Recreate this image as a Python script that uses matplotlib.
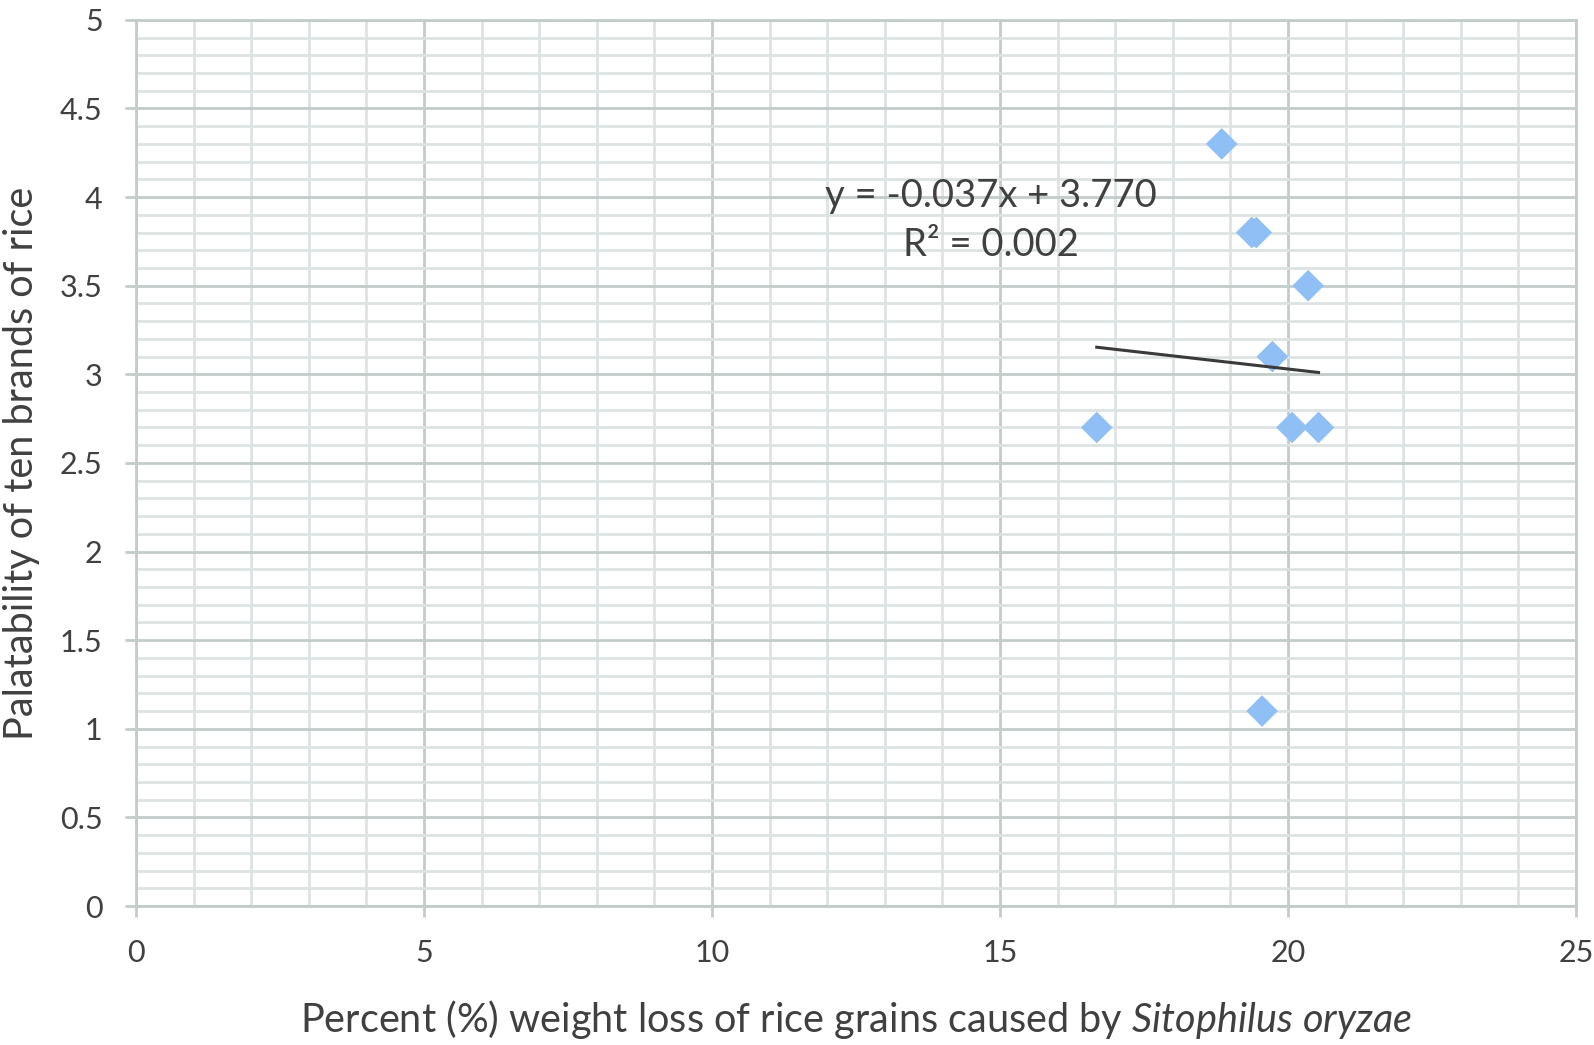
import matplotlib.pyplot as plt
from matplotlib.ticker import MultipleLocator

# weight loss (%) vs palatability score
weight_loss = [16.68, 18.85, 19.37, 19.45, 19.55, 19.73, 20.07, 20.35, 20.53]
palatability = [2.7, 4.3, 3.8, 3.8, 1.1, 3.1, 2.7, 3.5, 2.7]

# trendline as reported on the chart
slope = -0.037
intercept = 3.770
r_squared = 0.002

plt.rcParams["font.family"] = ["Lato", "DejaVu Sans"]
plt.rcParams["mathtext.fontset"] = "custom"
plt.rcParams["mathtext.it"] = "Lato:italic"
plt.rcParams["mathtext.rm"] = "Lato"
text_color = "#404040"
major_grid = "#c3cbcb"
minor_grid = "#dde3e3"

fig = plt.figure(figsize=(15.94, 10.45), dpi=100)
ax = fig.add_axes([0.0853, 0.133, 0.9034, 0.848])

ax.scatter(weight_loss, palatability, marker="D", s=260, color="#8fbff5",
           edgecolors="none", zorder=3)

x0, x1 = min(weight_loss), max(weight_loss)
ax.plot([x0, x1], [slope * x0 + intercept, slope * x1 + intercept],
        color="#3a3a3a", linewidth=2.2, zorder=4)

eq = "y = %.3fx + %.3f\nR² = %.3f" % (slope, intercept, r_squared)
ax.text(14.84, 3.87, eq, ha="center", va="center", fontsize=27.5,
        color=text_color, linespacing=1.45, zorder=5)

ax.set_xlim(0, 25)
ax.set_ylim(0, 5)
ax.xaxis.set_major_locator(MultipleLocator(5))
ax.xaxis.set_minor_locator(MultipleLocator(1))
ax.yaxis.set_minor_locator(MultipleLocator(0.1))
ax.set_yticks([0, 0.5, 1, 1.5, 2, 2.5, 3, 3.5, 4, 4.5, 5])
ax.set_yticklabels(["0", "0.5", "1", "1.5", "2", "2.5", "3", "3.5", "4", "4.5", "5"])

ax.grid(which="major", color=major_grid, linewidth=2)
ax.grid(which="minor", color=minor_grid, linewidth=2)
ax.set_axisbelow(True)

for s in ax.spines.values():
    s.set_color(major_grid)
    s.set_linewidth(2)

ax.tick_params(which="major", length=8, width=2, color=major_grid,
               labelsize=22, labelcolor=text_color, pad=16)
ax.tick_params(which="minor", length=0)

ax.set_xlabel("Percent (%) weight loss of rice grains caused by $\\it{Sitophilus\\ oryzae}$",
              fontsize=28.5, color=text_color, labelpad=22)
ax.set_ylabel("Palatability of ten brands of rice", fontsize=28.5, color=text_color,
              labelpad=14)

fig.savefig("out.png", dpi=100)
